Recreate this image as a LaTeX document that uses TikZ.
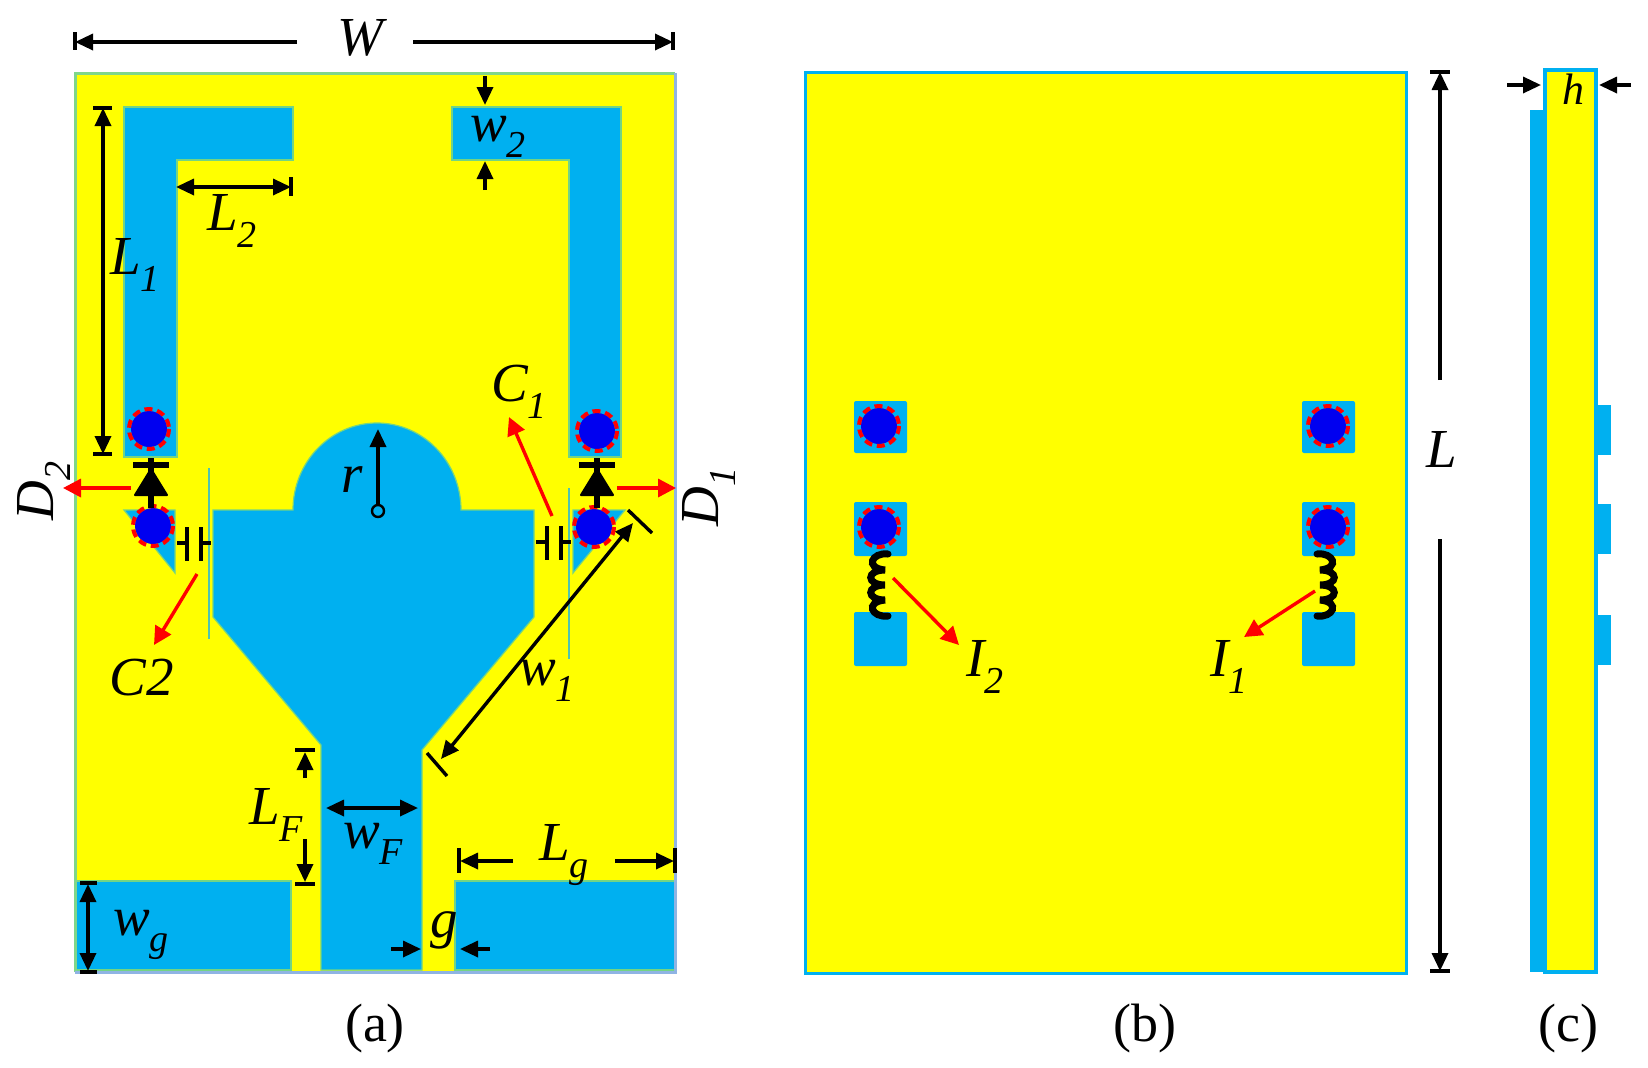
\documentclass[tikz,border=0pt]{standalone}
\usepackage{fontspec}
\setmainfont{Liberation Serif}
\usetikzlibrary{arrows.meta}
\definecolor{pcb}{HTML}{FFFF00}
\definecolor{cu}{HTML}{00B0F0}
\definecolor{viablue}{HTML}{0000F0}
\definecolor{redar}{HTML}{FF0000}
\definecolor{edgegreen}{HTML}{7FD68A}
\definecolor{edgeblue}{HTML}{8FB4E3}
\definecolor{slit}{HTML}{4FC3B0}
\newcommand{\lab}[2]{\textit{#1}\raisebox{-0.3em}{\fontsize{19}{19}\selectfont\textit{#2}}}
\newcommand{\viaat}[2]{\fill[viablue] (#1,#2) circle (18);\draw[viadash] (#1,#2) circle (20);}
\newcommand{\coilat}[2]{\begin{scope}[shift={(#1,0)},xscale=#2]
\draw[coilline] (0,554) .. controls (-16,552) and (-24,568) .. (-3,570)
 .. controls (-22,570) and (-22,585) .. (-3,585)
 .. controls (-22,585) and (-22,600) .. (-3,600)
 .. controls (-24,602) and (-16,618) .. (0,616);
\end{scope}}
\newcommand{\diodeat}[1]{\draw[diodeline] (#1,458) -- (#1,508);
\draw[line width=2.7pt] (#1-18,465) -- (#1+18,465);
\fill[line join=round,draw=black,line width=1pt] (#1,469) -- (#1+16,495) -- (#1-16,495) -- cycle;}
\tikzset{
 x=0.5pt,y=-0.5pt,
 lbl/.style={font=\fontsize{27.5}{27.5}\selectfont\itshape,inner sep=0pt,text=black},
 captext/.style={font=\fontsize{27}{27}\selectfont,inner sep=0pt,text=black},
 patch/.style={fill=cu,draw=cu!55!pcb,line width=0.6pt},
 dimline/.style={line width=1.7pt,draw=black,-{Triangle[length=9pt,width=8pt]}},
 dimboth/.style={line width=1.7pt,draw=black,{Triangle[length=9pt,width=8pt]}-{Triangle[length=9pt,width=8pt]}},
 dimbar/.style={line width=1.7pt,draw=black},
 redline/.style={line width=1.7pt,draw=redar,-{Triangle[length=9pt,width=9pt]}},
 viadash/.style={draw=redar,line width=2pt,dash pattern=on 4pt off 2.4pt},
 coilline/.style={draw=black,line width=3.5pt,line cap=round},
 diodeline/.style={draw=black,line width=3pt},
 capline/.style={draw=black,line width=2.4pt},
 slitline/.style={draw=slit,line width=1.2pt},
}
\begin{document}
\begin{tikzpicture}
\useasboundingbox (0,0) rectangle (1648,1067);
\fill[white] (0,0) rectangle (1648,1067);
% --- panel (a)
\fill[pcb] (75,73) rectangle (675,972);
\path[patch] (124,107) -- (293,107) -- (293,160) -- (177,160) -- (177,457) -- (124,457) -- cycle;
\path[patch] (621,107) -- (452,107) -- (452,160) -- (569,160) -- (569,457) -- (621,457) -- cycle;
\path[patch] (124,510) -- (175,510) -- (175,573) -- cycle;
\path[patch] (625,510) -- (573,510) -- (573,573) -- cycle;
\path[patch] (213,510) -- (293,510) arc[start angle=180,end angle=360,x radius=84,y radius=87] -- (534,510) -- (534,617) -- (422,750) -- (422,970) -- (321,970) -- (321,745) -- (213,617) -- cycle;
\path[patch] (75,881) rectangle (291,970);
\path[patch] (455,881) rectangle (675,970);
\draw[edgegreen,line width=1.5pt] (75,972) -- (75,73) -- (675,73);
\draw[edgeblue,line width=1.5pt] (75,972) -- (675,972) -- (675,73);
\draw[slitline] (209,468) -- (209,639);
\draw[slitline] (569,488) -- (569,659);
\viaat{149}{429}\viaat{153}{526}\viaat{597}{431}\viaat{594}{527}
\diodeat{151}\diodeat{597}
% capacitors
\draw[capline] (177,543) -- (187,543) (201,543) -- (211,543) (187,527) -- (187,561) (201,527) -- (201,561);
\draw[capline] (536,542) -- (547,542) (561,542) -- (571,542) (547,526) -- (547,560) (561,526) -- (561,560);
% red arrows a
\draw[redline] (131,488) -- (63,488);
\draw[redline] (617,488) -- (676,488);
\draw[redline] (197,574) -- (154,645);
\draw[redline] (552,516) -- (509,417);
% W
\draw[dimbar] (75,32) -- (75,50) (673,32) -- (673,50);
\draw[dimline] (297,42) -- (75,42);
\draw[dimline] (413,42) -- (673,42);
\node[lbl] (W) at (360,38) {W};
% L1
\draw[dimbar] (93,108) -- (112,108) (93,454) -- (112,454);
\draw[dimboth] (103,108) -- (103,454);
\node[lbl] (L1) at (135,265) {\lab{L}{1}};
% L2
\draw[dimbar] (291,177) -- (291,196);
\draw[dimboth] (176,187) -- (291,187);
\node[lbl] (L2) at (232,221) {\lab{L}{2}};
% w2
\draw[dimline] (485,76) -- (485,105);
\draw[dimline] (485,190) -- (485,161);
\node[lbl] (w2) at (498,137) {\lab{w}{2}};
% r
\draw[dimline] (378,505) -- (378,429);
\draw[line width=1.2pt,draw=black,fill=cu] (378,511) circle (6);
\node[lbl] (r) at (352,480) {r};
% w1
\draw[dimbar] (628,510) -- (652,533) (427,753) -- (447,776);
\draw[dimboth] (633,523) -- (441,759);
\node[lbl] (w1) at (547,681) {\lab{w}{1}};
% LF
\draw[dimbar] (295,750) -- (315,750) (295,884) -- (315,884);
\draw[dimline] (305,778) -- (305,752);
\draw[dimline] (305,839) -- (305,882);
\node[lbl] (LF) at (276,815) {\lab{L}{F}};
% wF
\draw[dimboth] (326,808) -- (418,808);
\node[lbl] (wF) at (373,844) {\lab{w}{F}};
% Lg
\draw[dimbar] (459,848) -- (459,873) (675,848) -- (675,873);
\draw[dimline] (513,861) -- (460,861);
\draw[dimline] (615,861) -- (674,861);
\node[lbl] (Lg) at (564,855) {\lab{L}{g}};
% wg
\draw[dimbar] (80,883) -- (97,883) (80,972) -- (97,972);
\draw[dimboth] (88,884) -- (88,971);
\node[lbl] (wg) at (141,935) {\lab{w}{g}};
% g
\draw[dimline] (391,949) -- (421,949);
\draw[dimline] (490,949) -- (460,949);
\node[lbl] (g) at (444,930) {g};
\node[lbl,rotate=90] (D2) at (44,491) {\lab{D}{2}};
\node[lbl,rotate=90] (D1) at (709,497) {\lab{D}{1}};
\node[lbl] (C1) at (519,392) {\lab{C}{1}};
\node[lbl] (C2) at (142,678) {C2};
\node[captext] (capa) at (375,1028) {(a)};
% --- panel (b)
\draw[cu,fill=pcb,line width=1.5pt] (805,72) rectangle (1406,973);
\foreach \xa in {854,1302}{
 \fill[cu,rounded corners=1pt] (\xa,401) rectangle +(53,52);
 \fill[cu,rounded corners=1pt] (\xa,502) rectangle +(53,54);
 \fill[cu,rounded corners=1pt] (\xa,612) rectangle +(53,54);
}
\viaat{879}{426}\viaat{879}{527}\viaat{1328}{426}\viaat{1328}{527}
\coilat{888}{1}\coilat{1317}{-1}
\draw[redline] (893,578) -- (959,645);
\draw[redline] (1315,591) -- (1244,637);
\node[lbl] (I2) at (985,667) {\lab{I}{2}};
\node[lbl] (I1) at (1229,667) {\lab{I}{1}};
% L
\draw[dimbar] (1430,72) -- (1450,72) (1430,971) -- (1450,971);
\draw[dimline] (1440,380) -- (1440,72);
\draw[dimline] (1440,539) -- (1440,971);
\node[lbl] (L) at (1442,449) {L};
\node[captext] (capb) at (1145,1028) {(b)};
% --- panel (c)
\fill[cu] (1530,110) rectangle (1547,972);
\draw[cu,fill=pcb,line width=1.7pt] (1545,70) rectangle (1596,972);
\fill[cu] (1596,405) rectangle (1611,455);
\fill[cu] (1596,504) rectangle (1611,554);
\fill[cu] (1596,615) rectangle (1611,665);
\draw[dimline] (1507,85) -- (1541,85);
\draw[dimline] (1631,85) -- (1599,85);
\node[lbl,font=\fontsize{22}{22}\selectfont\itshape] (h) at (1573,89) {h};
\node[captext] (capc) at (1568,1028) {(c)};
\end{tikzpicture}
\end{document}
